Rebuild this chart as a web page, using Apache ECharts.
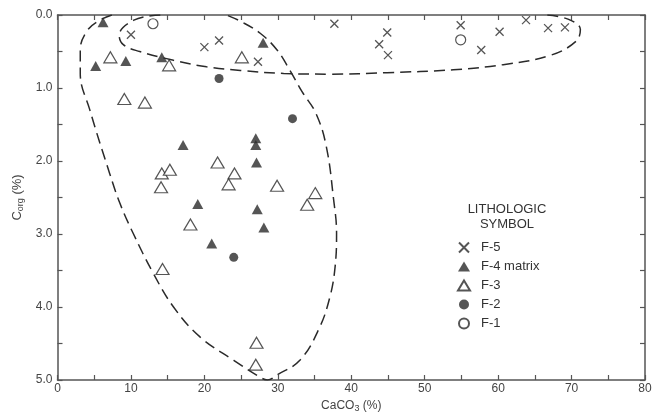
<!DOCTYPE html>
<html>
<head>
<meta charset="utf-8">
<script src="https://cdn.jsdelivr.net/npm/echarts@6/dist/echarts.min.js"></script>
<style>html,body{margin:0;padding:0;background:#fff}#c{width:658px;height:412px}</style>
</head>
<body>
<div id="c"></div>
<script>
// Data: [CaCO3 %, Corg %]
var f5 = [[10,0.27],[20,0.44],[22,0.35],[27.3,0.64],[37.7,0.12],[43.8,0.40],[44.9,0.24],[45,0.55],[54.9,0.14],[57.7,0.48],[60.2,0.23],[63.8,0.07],[66.8,0.18],[69.1,0.17]];
var f4 = [[6.2,0.1],[28,0.38],[5.2,0.70],[9.3,0.63],[14.2,0.58],[17.1,1.78],[27,1.69],[27,1.78],[27.1,2.02],[19.1,2.59],[27.2,2.66],[28.1,2.91],[21,3.13]];
var f3 = [[7.2,0.58],[15.2,0.69],[25.1,0.58],[9.1,1.15],[11.9,1.20],[21.8,2.02],[14.2,2.17],[15.3,2.12],[24.1,2.17],[23.3,2.32],[14.1,2.36],[29.9,2.34],[35.1,2.44],[34,2.6],[18.1,2.87],[14.3,3.48],[27.1,4.49],[27,4.79]];
var f2 = [[22,0.87],[32,1.42],[24,3.32]];
var f1 = [[13,0.12],[54.9,0.34]];
// Dashed outline of the two groupings
var bigLoop = [[7.4,0],[5.6,0.08],[4.0,0.22],[3.1,0.48],[3.1,0.8],[4.4,1.3],[7.1,2.17],[8.5,2.58],[10.3,2.99],[13.05,3.54],[15.8,4.0],[19.4,4.41],[24.0,4.73],[27.4,4.95],[28.6,5.0],[29.9,4.93],[33.0,4.73],[35.6,4.3],[37.1,3.86],[37.8,3.45],[38.0,2.99],[37.6,2.53],[36.6,1.8],[35.2,1.35],[33.3,1.05],[31.6,0.75],[29.9,0.48],[27.6,0.25],[25.0,0.09],[23.0,0.0]];
var topLoop = [[14,0],[10.4,0.07],[8.4,0.28],[9.0,0.41],[11.2,0.50],[15.8,0.62],[20.3,0.71],[24.9,0.76],[30.8,0.80],[37.1,0.81],[44.85,0.79],[53.9,0.75],[60.7,0.68],[67.2,0.55],[70.6,0.36],[71.2,0.2],[69.6,0.06],[66.6,0.0]];
var xTicks = [0,10,20,30,40,50,60,70,80];
var yTicks = ['0.0','1.0','2.0','3.0','4.0','5.0'];

var FONT = "'Liberation Sans', Arial, sans-serif";
var INK = '#2a2a2a';
var AX = '#555';
var X_PATH = 'path://M0,0L10,10M10,0L0,10';

var chart = echarts.init(document.getElementById('c'), null, {renderer:'canvas'});
function axisCommon(){
  return {
    axisLine:{show:true, onZero:false, lineStyle:{color:AX, width:1.5}},
    axisTick:{show:true, inside:true, length:5, lineStyle:{color:AX, width:1.2}},
    minorTick:{show:true, splitNumber:2, length:5, lineStyle:{color:AX, width:1.2}},
    splitLine:{show:false},
    minorSplitLine:{show:false}
  };
}
var option = {
  animation:false,
  backgroundColor:'#fff',
  grid:{left:57.5, right:13, top:15, bottom:32, containLabel:false, outerBoundsMode:'none'},
  xAxis:[
    Object.assign(axisCommon(), {type:'value', min:0, max:80, interval:10, position:'bottom',
      axisLabel:{color:'#444', fontFamily:FONT, fontSize:12, margin:3,
        formatter:function(v){return xTicks.indexOf(v)>=0? String(v):'';}},
      name:'CaCO{s|3} (%)', nameLocation:'middle', nameGap:17,
      nameTextStyle:{color:'#444', fontFamily:FONT, fontSize:12, rich:{s:{fontSize:9, verticalAlign:'bottom', padding:[6,0,0,0], color:'#444', fontFamily:FONT}}}}),
    Object.assign(axisCommon(), {type:'value', min:0, max:80, interval:10, position:'top', axisLabel:{show:false}})
  ],
  yAxis:[
    Object.assign(axisCommon(), {type:'value', min:0, max:5, interval:1, inverse:true, position:'left',
      axisLabel:{color:'#444', fontFamily:FONT, fontSize:12, margin:5,
        formatter:function(v){return yTicks[Math.round(v)];}},
      name:'C{s|org} (%)', nameLocation:'middle', nameGap:32, nameRotate:90,
      nameTextStyle:{color:'#444', fontFamily:FONT, fontSize:13, rich:{s:{fontSize:9, color:'#444', fontFamily:FONT, padding:[6,0,0,0]}}}}),
    Object.assign(axisCommon(), {type:'value', min:0, max:5, interval:1, inverse:true, position:'right', axisLabel:{show:false}})
  ],
  legend:{
    orient:'vertical', left:452, top:236, itemWidth:12, itemHeight:10, itemGap:6,
    textStyle:{color:'#333', fontFamily:FONT, fontSize:13, padding:[0,0,0,6]},
    data:['F-5','F-4 matrix','F-3','F-2','F-1']
  },
  graphic:[{type:'text', x:507, y:202, style:{text:'LITHOLOGIC\nSYMBOL', textAlign:'center', fill:'#333', font:'13px '+FONT, lineHeight:15}}],
  series:[
    {name:'loopA', type:'line', data:bigLoop, smooth:0.4, symbol:'none', silent:true, clip:true,
      lineStyle:{color:INK, width:1.5, type:[11,6]}},
    {name:'loopB', type:'line', data:topLoop, smooth:0.4, symbol:'none', silent:true, clip:true,
      lineStyle:{color:INK, width:1.5, type:[11,6]}},
    {name:'F-5', type:'scatter', data:f5, symbol:X_PATH, symbolSize:8,
      itemStyle:{color:'rgba(0,0,0,0)', borderColor:INK, borderWidth:1.3}},
    {name:'F-4 matrix', type:'scatter', data:f4, symbol:'triangle', symbolSize:[11,10],
      itemStyle:{color:INK}},
    {name:'F-3', type:'scatter', data:f3, symbol:'triangle', symbolSize:[13,11],
      itemStyle:{color:'#fff', borderColor:INK, borderWidth:1.2}},
    {name:'F-2', type:'scatter', data:f2, symbol:'circle', symbolSize:9,
      itemStyle:{color:INK}},
    {name:'F-1', type:'scatter', data:f1, symbol:'circle', symbolSize:10,
      itemStyle:{color:'#fff', borderColor:INK, borderWidth:1.2}}
  ]
};
chart.setOption(option);
</script>
</body>
</html>
